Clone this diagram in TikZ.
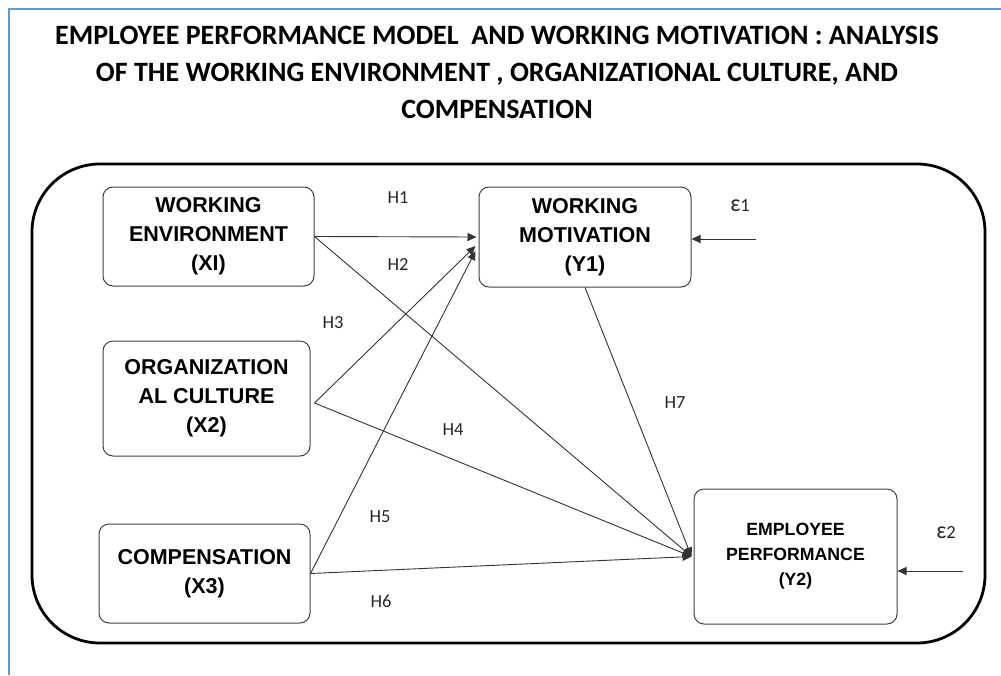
\documentclass[tikz,border=0pt]{standalone}
\usepackage{fontspec}
\setmainfont{Carlito}
\newfontfamily\arialfont{Liberation Sans}
\usetikzlibrary{arrows.meta,calc}
\definecolor{bluefr}{RGB}{91,155,213}
\newcommand{\epsl}{\scalebox{1.2}[1.3]{ε}}
\begin{document}
\begin{tikzpicture}[x=1pt,y=-1pt,
  box/.style={draw=black!75, line width=1pt, rounded corners=10pt, align=center, inner sep=0pt,
    font=\arialfont\bfseries\fontsize{21.5}{29}\selectfont},
  conn/.style={draw=black!80, line width=0.9pt},
  arr/.style={conn, -{Triangle[length=9pt,width=8pt]}},
  hlab/.style={font=\fontsize{18.5}{22}\selectfont, text=black!85, inner sep=0pt}]
\useasboundingbox (0,0) rectangle (1001,675);
\draw[bluefr, line width=2pt] (9,675) -- (9,9) -- (1001,9);
\node[font=\bfseries\fontsize{28}{37}\selectfont, align=center, inner sep=0pt] (title) at (497,72)
  {EMPLOYEE PERFORMANCE MODEL\ \ AND WORKING MOTIVATION : ANALYSIS\\
   OF THE WORKING ENVIRONMENT , ORGANIZATIONAL CULTURE, AND\\
   COMPENSATION};
\draw[line width=2.8pt, rounded corners=68pt] (32,164) rectangle (985,643);
\node[box, minimum width=211pt, minimum height=99pt] (we) at (208.5,236.5) {WORKING\\ENVIRONMENT\\(XI)};
\node[box, minimum width=207pt, minimum height=115pt] (oc) at (206.5,398.5) {ORGANIZATION\\AL CULTURE\\(X2)};
\node[box, minimum width=211pt, minimum height=99pt] (cp) at (204.5,573.5) {COMPENSATION\\(X3)};
\node[box, minimum width=212pt, minimum height=100pt] (y1) at (585,237) {WORKING\\MOTIVATION\\(Y1)};
\node[box, minimum width=203pt, minimum height=135pt, font=\arialfont\bfseries\fontsize{17.7}{25}\selectfont] (y2) at (795.5,556.5) {EMPLOYEE\\PERFORMANCE\\(Y2)};
\coordinate (oce) at ([xshift=4pt,yshift=-4.5pt]oc.east);
\coordinate (y2in) at ([xshift=-2pt]y2.west);
\draw[arr] (we.east) -- ([xshift=-2pt]y1.west);
\draw[arr] (we.east) -- (y2in);
\draw[arr] (oce) -- ([xshift=-3pt,yshift=-9pt]y1.west);
\draw[arr] (oce) -- (y2in);
\draw[arr] (cp.east) -- ([xshift=-3pt,yshift=-14pt]y1.west);
\draw[arr] (cp.east) -- (y2in);
\draw[arr] (y1.south) -- (y2in);
\coordinate (e1) at (756,239);
\coordinate (e2) at (963,571);
\draw[arr] (e1) -- (e1 -| y1.east);
\draw[arr] (e2) -- (e2 -| y2.east);
\node[hlab] (h1) at (398,198) {H1};
\node[hlab] (h2) at (398,264) {H2};
\node[hlab] (h3) at (333,323) {H3};
\node[hlab] (h4) at (453,430) {H4};
\node[hlab] (h5) at (380,517) {H5};
\node[hlab] (h6) at (381,601) {H6};
\node[hlab] (h7) at (675,403) {H7};
\node[hlab] (eps1) at (740,206) {\epsl1};
\node[hlab] (eps2) at (946,533) {\epsl2};
\end{tikzpicture}
\end{document}
